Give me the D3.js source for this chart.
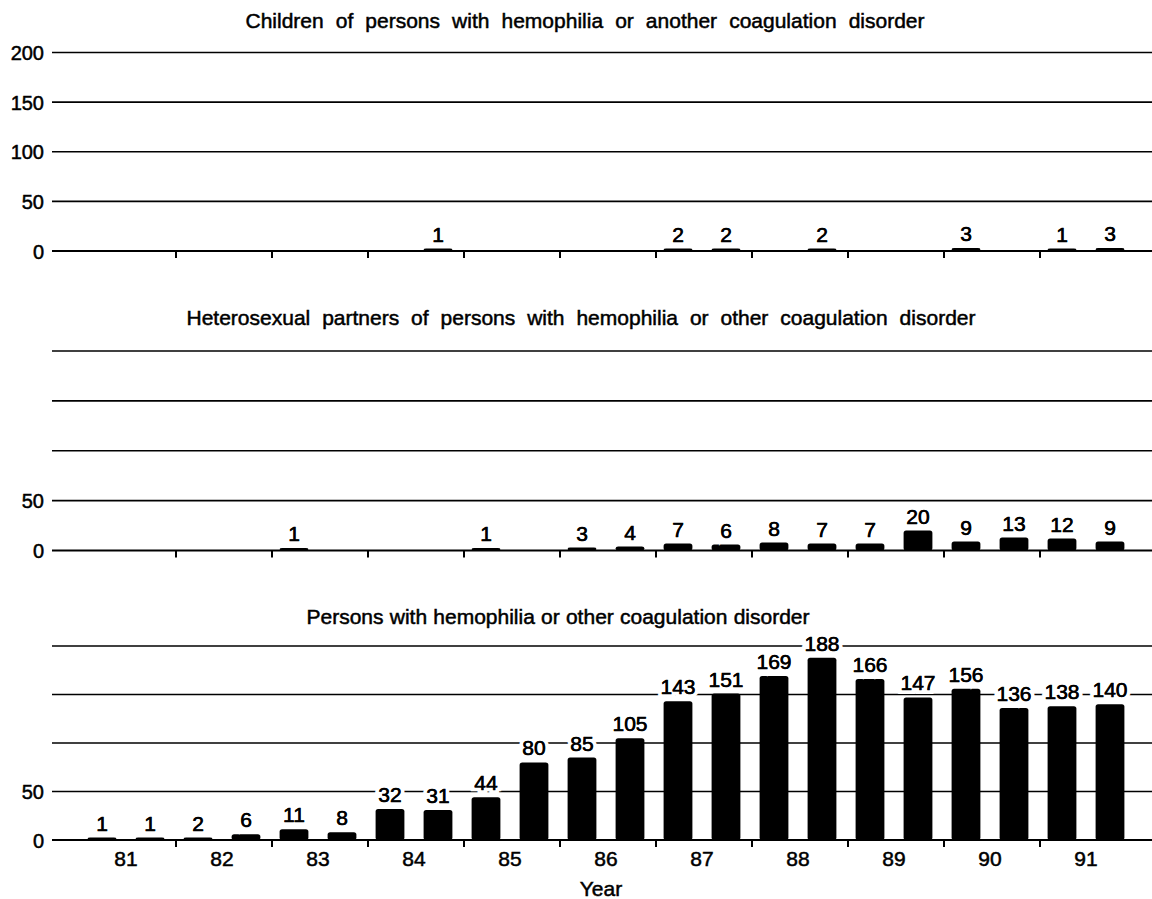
<!DOCTYPE html>
<html>
<head>
<meta charset="utf-8">
<script src="https://cdn.jsdelivr.net/npm/d3@7"></script>
<style>
  html, body { margin: 0; padding: 0; background: #fff; }
  svg { display: block; }
  text { font-family: "Liberation Sans", Arial, Helvetica, sans-serif; fill: #000; }
  .ink { stroke: #000; stroke-width: 0.5px; }
</style>
</head>
<body>
<svg id="chart" width="1152" height="899"></svg>
<script>
// ---- Data ----
const periods = ["81a","81b","82a","82b","83a","83b","84a","84b","85a","85b","86a","86b",
                 "87a","87b","88a","88b","89a","89b","90a","90b","91a","91b"];
const years = ["81","82","83","84","85","86","87","88","89","90","91"];
const childrenValues = [null,null,null,null,null,null,null,1,null,null,null,null,
                        2,2,null,2,null,null,3,null,1,3];
const partnerValues = [null,null,null,null,1,null,null,null,1,null,3,4,
                       7,6,8,7,7,20,9,13,12,9];
const personValues = [1,1,2,6,11,8,32,31,44,80,85,105,
                      143,151,169,188,166,147,156,136,138,140];
const titles = [
  "Children of persons with hemophilia or another coagulation disorder",
  "Heterosexual partners of persons with hemophilia or other coagulation disorder",
  "Persons with hemophilia or other coagulation disorder"
];
const gridValues = [0, 50, 100, 150, 200];
const yTickLabelsFull = [0, 50, 100, 150, 200];
const yTickLabelsShort = [0, 50];
const xAxisTitle = "Year";

// ---- Layout ----
const svg = d3.select("#chart");
const lineLeft = 52, lineRight = 1152;
const x = d3.scaleBand().domain(periods).range([78, 1134]).paddingInner(0.4).paddingOuter(0.2);
const step = x.step();

const panels = [
  { values: childrenValues, title: titles[0], y0: 251, y200: 52.5, yLabels: yTickLabelsFull, titleY: 28, titleW: 679, titleX: 585 },
  { values: partnerValues, title: titles[1], y0: 550.5, y200: 351, yLabels: yTickLabelsShort, titleY: 325, titleW: 789, titleX: 581 },
  { values: personValues, title: titles[2], y0: 840, y200: 646, yLabels: yTickLabelsShort, titleY: 624, titleW: 503, titleX: 558 }
];

const FS = 21;

panels.forEach((p, pi) => {
  const g = svg.append("g");
  const y = d3.scaleLinear().domain([0, 200]).range([p.y0, p.y200]);

  // title
  const t = g.append("text")
    .attr("class", "ink")
    .attr("x", p.titleX).attr("y", p.titleY)
    .attr("text-anchor", "middle")
    .style("font-size", FS + "px")
    .text(p.title);
  const natural = t.node().getComputedTextLength();
  const nSpaces = p.title.split(" ").length - 1;
  const ws = (p.titleW - natural) / nSpaces;
  t.style("word-spacing", ws + "px");

  // gridlines
  g.selectAll("line.grid").data(gridValues.filter(v => v > 0)).join("line")
    .attr("x1", lineLeft).attr("x2", lineRight)
    .attr("y1", d => y(d)).attr("y2", d => y(d))
    .attr("stroke", "#000").attr("stroke-width", 1.6);

  // baseline
  g.append("line")
    .attr("x1", lineLeft).attr("x2", lineRight)
    .attr("y1", y(0)).attr("y2", y(0))
    .attr("stroke", "#000").attr("stroke-width", 2);

  // year boundary ticks
  const tickIdx = d3.range(1, years.length);
  g.selectAll("line.tick").data(tickIdx).join("line")
    .attr("x1", k => x(periods[2 * k]) - step * 0.2 + 2)
    .attr("x2", k => x(periods[2 * k]) - step * 0.2 + 2)
    .attr("y1", y(0)).attr("y2", y(0) + 7)
    .attr("stroke", "#000").attr("stroke-width", 2);

  // y labels
  g.selectAll("text.ylab").data(p.yLabels).join("text")
    .attr("class", "ink")
    .attr("x", 44).attr("y", d => y(d) + 7.5)
    .attr("text-anchor", "end")
    .style("font-size", (FS - 1) + "px")
    .text(d => d);

  const data = periods.map((k, i) => ({ k, v: p.values[i] })).filter(d => d.v !== null);

  // bars
  g.selectAll("rect.bar").data(data).join("rect")
    .attr("x", d => x(d.k))
    .attr("width", x.bandwidth())
    .attr("y", d => Math.min(y(d.v), y(0) - 2.5))
    .attr("height", d => Math.max(y(0) - y(d.v), 2.5))
    .attr("rx", 2.5)
    .attr("fill", "#000");

  // value labels with white halo
  g.selectAll("text.val").data(data).join("text")
    .attr("x", d => x(d.k) + x.bandwidth() / 2)
    .attr("y", d => Math.min(y(d.v), y(0) - 2.5) - 7)
    .attr("text-anchor", "middle")
    .style("font-size", FS + "px")
    .attr("stroke", "#fff").attr("stroke-width", 8)
    .attr("paint-order", "stroke")
    .text(d => d.v);
  g.selectAll("text.valink").data(data).join("text")
    .attr("class", "ink")
    .attr("x", d => x(d.k) + x.bandwidth() / 2)
    .attr("y", d => Math.min(y(d.v), y(0) - 2.5) - 7)
    .attr("text-anchor", "middle")
    .style("font-size", FS + "px")
    .text(d => d.v);

  // x labels only on last panel
  if (pi === panels.length - 1) {
    g.selectAll("text.xlab").data(years).join("text")
      .attr("class", "ink")
      .attr("x", (d, i) => (x(periods[2 * i]) + x(periods[2 * i + 1]) + x.bandwidth()) / 2)
      .attr("y", 866)
      .attr("text-anchor", "middle")
      .style("font-size", FS + "px")
      .text(d => d);
    g.append("text")
      .attr("class", "ink")
      .attr("x", 601).attr("y", 896)
      .attr("text-anchor", "middle")
      .style("font-size", FS + "px")
      .text(xAxisTitle);
  }
});
</script>
</body>
</html>
